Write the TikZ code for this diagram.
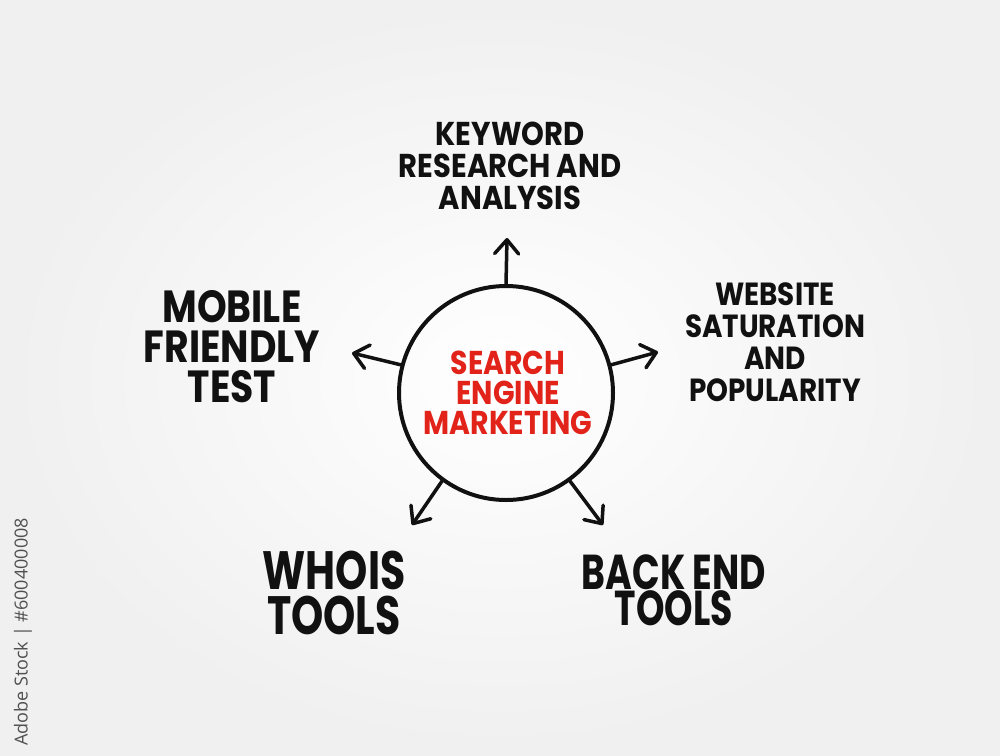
\documentclass[tikz,border=0pt]{standalone}
\usepackage{fontspec}
\usetikzlibrary{arrows.meta}
\newfontfamily\hkw{Poppins}[FakeStretch=0.88]
\newfontfamily\hmob{Poppins}[FakeStretch=0.84]
\newfontfamily\hweb{Poppins}[FakeStretch=0.87]
\newfontfamily\hwho{Poppins}[FakeStretch=0.76]
\newfontfamily\hback{Poppins}[FakeStretch=0.74]
\newfontfamily\hred{Poppins}[FakeStretch=0.86]
\newfontfamily\wmfont{Open Sans}
\definecolor{semred}{HTML}{E2231A}
\definecolor{ink}{HTML}{111111}
\definecolor{wmgray}{HTML}{505050}
\begin{document}
\begin{tikzpicture}[x=1pt,y=-1pt,
  label/.style={inner sep=0pt, align=center, text=ink},
  hub/.style={circle, draw=ink, line width=4pt, minimum size=214pt, inner sep=0pt},
  spoke/.style={draw=ink, line width=3.5pt, line cap=round, line join=round,
    -{Straight Barb[length=14pt, width=24pt, line cap=round, line join=round]}}]
\useasboundingbox (0,0) rectangle (1000,755);
\shade[inner color=white, outer color=black!6] (0,0) rectangle (1000,755);

% hub
\node[hub] (c) at (506,393) {};
\node[label, text=semred, font=\hred\bfseries\fontsize{33}{30}\selectfont] (sem) at (508,393)
  {SEARCH\\ENGINE\\MARKETING};

% labels
\node[label, font=\hkw\bfseries\fontsize{33}{32}\selectfont] (kw) at (510,166)
  {KEYWORD\\RESEARCH AND\\ANALYSIS};
\node[label, font=\hmob\bfseries\fontsize{45}{40}\selectfont] (mob) at (232,347)
  {MOBILE\\FRIENDLY\\TEST};
\node[label, font=\hweb\bfseries\fontsize{32}{32}\selectfont] (web) at (775,342)
  {WEBSITE\\SATURATION\\AND\\POPULARITY};
\node[label, font=\hwho\bfseries\fontsize{54}{45}\selectfont] (who) at (334,593)
  {WHOIS\\TOOLS};
\node[label, font=\hback\bfseries\fontsize{49}{36}\selectfont] (back) at (674,590)
  {BACK END\\TOOLS};

% arrow tips
\coordinate (tkw) at (507,238);
\coordinate (tmob) at (352,353);
\coordinate (tweb) at (658,352);
\coordinate (twho) at (412,525);
\coordinate (tback) at (603,525);

\draw[spoke] (c.90) -- (tkw);
\draw[spoke] (c.165) -- (tmob);
\draw[spoke] (c.15) -- (tweb);
\draw[spoke] (c.234) -- (twho);
\draw[spoke] (c.306) -- (tback);

% side credit
\node[inner sep=0pt, rotate=90, text=wmgray, font=\wmfont\fontsize{18}{18}\selectfont] (credit) at (23,632)
  {Adobe Stock | \#600400008};
\end{tikzpicture}
\end{document}
